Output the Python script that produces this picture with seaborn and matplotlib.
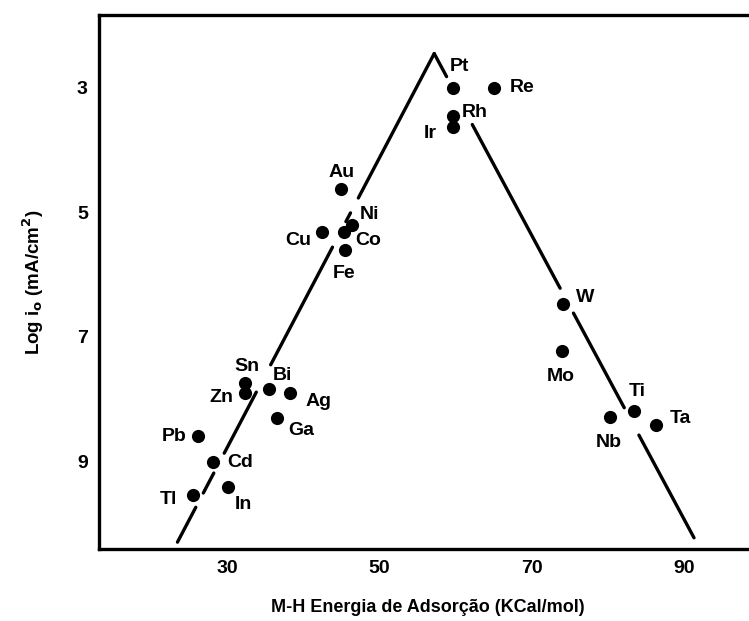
import numpy as np
import pandas as pd
import matplotlib
matplotlib.use("Agg")
import matplotlib.pyplot as plt
import seaborn as sns

# ---- data ----
metals = ["Pt", "Re", "Rh", "Ir", "Au", "Ni", "Co", "Cu", "Fe", "W", "Mo", "Ti", "Nb", "Ta",
          "Sn", "Zn", "Bi", "Ag", "Ga", "Pb", "Cd", "Tl", "In"]
energy = [59.7, 65.1, 59.6, 59.7, 44.9, 46.4, 45.3, 42.5, 45.5, 74.1, 74.0, 83.4, 80.3, 86.3,
          32.4, 32.4, 35.5, 38.3, 36.6, 26.2, 28.2, 25.6, 30.1]
log_i0 = [3.00, 3.00, 3.45, 3.63, 4.62, 5.21, 5.32, 5.32, 5.60, 6.47, 7.23, 8.19, 8.29, 8.42,
          7.74, 7.90, 7.84, 7.90, 8.31, 8.59, 9.01, 9.55, 9.42]

# volcano lines (x, y) endpoints
left_line_x = [23.5, 57.2]
left_line_y = [10.30, 2.45]
right_line_x = [57.2, 91.3]
right_line_y = [2.45, 10.23]
# visible stretches of each line (y ranges), gaps where labels sit
left_segments_y = [(10.30, 9.74), (9.51, 9.19), (8.87, 7.89), (7.45, 5.56), (5.15, 5.01), (4.77, 2.45)]
right_segments_y = [(2.45, 2.82), (3.59, 6.22), (6.62, 8.14), (8.58, 10.23)]

x_ticks = [30, 50, 70, 90]
y_ticks = [3, 5, 7, 9]

# label offsets in pixels (dx, dy) relative to the dot
label_offsets = {
    "Pt": (6, 21), "Re": (28, 0), "Rh": (22, 3), "Ir": (-23, -6), "Au": (1, 16),
    "Ni": (18, 11), "Co": (25, -8), "Cu": (-24, -8), "Fe": (-1, -24), "W": (22, 6),
    "Mo": (-1, -25), "Ti": (3, 19), "Nb": (-1, -25), "Ta": (25, 7), "Sn": (2, 16),
    "Zn": (-24, -5), "Bi": (14, 14), "Ag": (28, -9), "Ga": (24, -12), "Pb": (-24, -1),
    "Cd": (27, -1), "Tl": (-25, -4), "In": (16, -17),
}

df = pd.DataFrame({"metal": metals, "energy": energy, "log_i0": log_i0})

rows = []
uid = 0
for (lx, ly, segs) in [(left_line_x, left_line_y, left_segments_y),
                       (right_line_x, right_line_y, right_segments_y)]:
    order = np.argsort(ly)
    for (ya, yb) in segs:
        for yv in (ya, yb):
            xv = np.interp(yv, [ly[i] for i in order], [lx[i] for i in order])
            rows.append({"seg": uid, "x": xv, "y": yv})
        uid += 1
lines_df = pd.DataFrame(rows)

# ---- style ----
sns.set_style("white")
plt.rcParams["font.family"] = ["Liberation Sans", "DejaVu Sans"]
plt.rcParams["font.weight"] = "bold"
plt.rcParams["mathtext.default"] = "bf"
for key in ["text.color", "axes.labelcolor", "xtick.color", "ytick.color", "axes.edgecolor"]:
    plt.rcParams[key] = "black"

fig = plt.figure(figsize=(7.49, 6.21), dpi=100)
ax = fig.add_axes([99 / 749, 1 - 549 / 621, 1 - 99 / 749 + 0.01, (549 - 15) / 621])

sns.lineplot(data=lines_df, x="x", y="y", units="seg", estimator=None, sort=False,
             color="black", linewidth=2.4, ax=ax, legend=False)
sns.scatterplot(data=df, x="energy", y="log_i0", color="black", s=90, edgecolor="black",
                linewidth=0, ax=ax, zorder=3, legend=False)

for m, xv, yv in zip(metals, energy, log_i0):
    dx, dy = label_offsets[m]
    ax.annotate(m, (xv, yv), xytext=(dx * 0.72, dy * 0.72), textcoords="offset points",
                ha="center", va="center", fontsize=14, fontweight="bold", color="black")

ax.set_xlim(13.2, 99.5)
ax.set_ylim(10.41, 1.83)
ax.set_xticks(x_ticks)
ax.set_yticks(y_ticks)
ax.tick_params(direction="in", length=7, width=2, labelsize=14, pad=8, colors="black")
for lbl in ax.get_xticklabels() + ax.get_yticklabels():
    lbl.set_fontweight("bold")
for side in ["left", "bottom", "top"]:
    ax.spines[side].set_linewidth(2.4)
    ax.spines[side].set_color("black")
ax.spines["right"].set_visible(False)

ax.set_xlabel("M-H Energia de Adsorção (KCal/mol)", fontsize=13, fontweight="bold", labelpad=16)
ax.set_ylabel(r"Log i$_{\mathbf{o}}$ (mA/cm$^{\mathbf{2}}$)", fontsize=13.5, fontweight="bold", labelpad=22)

fig.savefig("out.png", dpi=100)
